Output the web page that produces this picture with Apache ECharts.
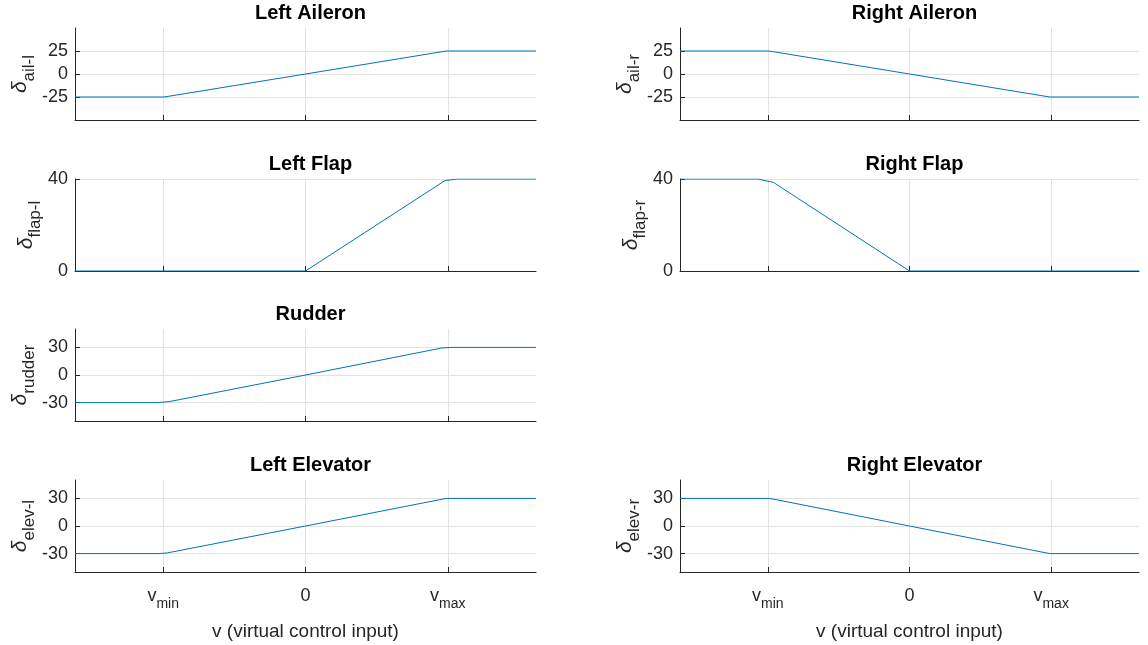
<!DOCTYPE html>
<html><head><meta charset="utf-8">
<script src="https://cdn.jsdelivr.net/npm/echarts@6/dist/echarts.min.js"></script>
<style>html,body{margin:0;padding:0;background:#fff}#c{width:1148px;height:645px}</style>
</head><body><div id="c"></div>
<script>
// ---- data ----
const xTicks = [-1, 0, 1];
const xTickLabels = ['v_min', '0', 'v_max'];
const xRange = [-1.62, 1.62];

const vLeftAil  = [-1.62, -1.0, -0.96, 0, 0.99, 1.62];
const dLeftAil  = [-25, -25, -24.2, 0, 25, 25];
const vRightAil = [-1.62, -1.0, -0.96, 0, 0.99, 1.62];
const dRightAil = [25, 25, 24.2, 0, -25, -25];

const vLeftFlap  = [-1.62, 0, 0.98, 1.07, 1.62];
const dLeftFlap  = [0, 0, 39.3, 40, 40];
const vRightFlap = [-1.62, -1.07, -0.96, 0, 1.62];
const dRightFlap = [40, 40, 38.5, 0, 0];

const vRudder = [-1.62, -1.04, -0.96, 0, 0.96, 1.03, 1.62];
const dRudder = [-30, -30, -29, 0, 29.4, 30, 30];

const vLeftElev  = [-1.62, -1.03, -0.97, 0, 0.99, 1.62];
const dLeftElev  = [-30, -30, -29.2, 0, 30, 30];
const vRightElev = [-1.62, -1.0, -0.96, 0, 0.99, 1.62];
const dRightElev = [30, 30, 29.2, 0, -30, -30];

const titles   = ['Left Aileron', 'Right Aileron', 'Left Flap', 'Right Flap', 'Rudder', 'Left Elevator', 'Right Elevator'];
const subNames = ['ail-l', 'ail-r', 'flap-l', 'flap-r', 'rudder', 'elev-l', 'elev-r'];
const yTicksAil  = [-25, 0, 25];
const yTicksFlap = [0, 40];
const yTicksSurf = [-30, 0, 30];
const xLabelText = 'v (virtual control input)';

// ---- layout ----
const colLeft = [75, 680];
const colWidth = [461, 459];
const rowTop = [28, 179, 329, 480];
const rowH = 92;

const panels = [
  {t: 0, col: 0, row: 0, v: vLeftAil,  d: dLeftAil,  ticks: yTicksAil,  min: -50, max: 50},
  {t: 1, col: 1, row: 0, v: vRightAil, d: dRightAil, ticks: yTicksAil,  min: -50, max: 50},
  {t: 2, col: 0, row: 1, v: vLeftFlap, d: dLeftFlap, ticks: yTicksFlap, min: 0,   max: 40},
  {t: 3, col: 1, row: 1, v: vRightFlap,d: dRightFlap,ticks: yTicksFlap, min: 0,   max: 40},
  {t: 4, col: 0, row: 2, v: vRudder,   d: dRudder,   ticks: yTicksSurf, min: -50, max: 50},
  {t: 5, col: 0, row: 3, v: vLeftElev, d: dLeftElev, ticks: yTicksSurf, min: -50, max: 50},
  {t: 6, col: 1, row: 3, v: vRightElev,d: dRightElev,ticks: yTicksSurf, min: -50, max: 50}
];

const FONT = 'Liberation Sans, Arial, Helvetica, sans-serif';
const AX = '#262626';
const GRIDC = '#e2e2e2';

const grid = [], xAxis = [], yAxis = [], series = [], title = [];

function xLabelFmt(val) {
  const i = xTicks.indexOf(Math.round(val * 1000) / 1000);
  const s = i >= 0 ? xTickLabels[i] : '';
  const parts = s.split('_');
  if (parts.length === 2) return '{v|' + parts[0] + '}{s|' + parts[1] + '}';
  return '{v|' + s + '}';
}

panels.forEach((p, i) => {
  const left = colLeft[p.col], width = colWidth[p.col], top = rowTop[p.row];
  grid.push({left: left, top: top, width: width, height: rowH, containLabel: false});
  title.push({
    text: titles[p.t], left: left + width / 2, top: top - 30, textAlign: 'center',
    textStyle: {fontFamily: FONT, fontSize: 20, fontWeight: 'bold', color: '#000'}
  });
  const bottomRow = p.row === 3;
  xAxis.push({
    type: 'value', gridIndex: i, min: xRange[0], max: xRange[1],
    axisLine: {show: true, onZero: false, lineStyle: {color: AX, width: 1}},
    axisTick: {show: true, inside: true, length: 5, customValues: xTicks, lineStyle: {color: AX}},
    splitLine: {show: true, lineStyle: {color: GRIDC, width: 1}},
    axisLabel: {
      show: bottomRow, customValues: xTicks, margin: 15, formatter: xLabelFmt,
      rich: {
        v: {fontFamily: FONT, fontSize: 18, color: AX, verticalAlign: 'top', lineHeight: 20},
        s: {fontFamily: FONT, fontSize: 14, color: AX, verticalAlign: 'top', lineHeight: 16, padding: [10, 0, 0, 0]}
      }
    },
    name: bottomRow ? xLabelText : '', nameLocation: 'middle', nameGap: 50,
    nameTextStyle: {fontFamily: FONT, fontSize: 19, color: AX}
  });
  yAxis.push({
    type: 'value', gridIndex: i, min: p.min, max: p.max,
    axisLine: {show: true, onZero: false, lineStyle: {color: AX, width: 1}},
    axisTick: {show: true, inside: true, length: 5, customValues: p.ticks, lineStyle: {color: AX}},
    splitLine: {show: true, lineStyle: {color: GRIDC, width: 1}},
    axisLabel: {show: true, customValues: p.ticks, margin: 7, fontFamily: FONT, fontSize: 18, color: AX},
    name: '{d|δ}{s|' + subNames[p.t] + '}', nameLocation: 'middle', nameRotate: 90, nameGap: 36,
    nameTextStyle: {
      rich: {
        d: {fontFamily: FONT, fontSize: 21, fontStyle: 'italic', color: AX, verticalAlign: 'top', lineHeight: 22},
        s: {fontFamily: FONT, fontSize: 17, color: AX, verticalAlign: 'top', lineHeight: 18, padding: [11, 0, 0, 0]}
      }
    }
  });
  series.push({
    type: 'line', xAxisIndex: i, yAxisIndex: i, showSymbol: false, symbol: 'none',
    data: p.v.map((x, k) => [x, p.d[k]]),
    lineStyle: {color: '#0072BD', width: 1}, itemStyle: {color: '#0072BD'},
    animation: false, silent: true
  });
});

const chart = echarts.init(document.getElementById('c'), null, {renderer: 'canvas'});
chart.setOption({animation: false, backgroundColor: '#fff', title, grid, xAxis, yAxis, series});
</script></body></html>
